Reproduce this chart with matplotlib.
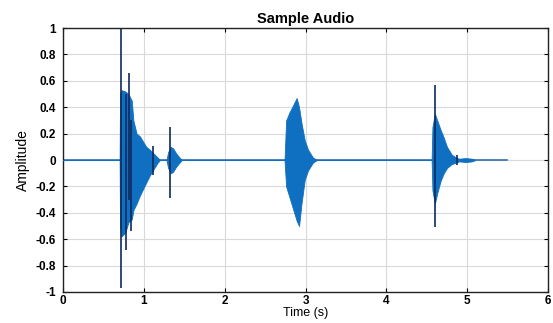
import numpy as np
import matplotlib
matplotlib.use('Agg')
import matplotlib.pyplot as plt

plt.rcParams['font.family'] = ['Liberation Sans', 'DejaVu Sans']
plt.rcParams['axes.unicode_minus'] = False

# envelope of the waveform (time in s, amplitude)
env_t = [0.0, 0.70, 0.705, 0.72, 0.77, 0.81, 0.85, 0.87, 0.91, 0.95, 0.99, 1.03, 1.07, 1.12, 1.17, 1.20,
         1.28, 1.30, 1.33, 1.36, 1.40, 1.44, 1.47,
         2.74, 2.76, 2.80, 2.85, 2.89, 2.92, 2.95, 2.99, 3.03, 3.09, 3.14,
         4.56, 4.57, 4.60, 4.63, 4.67, 4.71, 4.75, 4.81, 4.86, 4.90, 4.98, 5.06, 5.10]
env_hi = [0, 0, 0.50, 0.53, 0.52, 0.50, 0.45, 0.30, 0.20, 0.18, 0.14, 0.10, 0.08, 0.05, 0.02, 0,
          0, 0.06, 0.10, 0.09, 0.05, 0.02, 0,
          0, 0.30, 0.36, 0.42, 0.47, 0.40, 0.28, 0.15, 0.08, 0.02, 0,
          0, 0.25, 0.35, 0.30, 0.23, 0.17, 0.10, 0.04, 0.02, 0.01, 0.015, 0.01, 0]
env_lo = [0, 0, -0.50, -0.58, -0.55, -0.47, -0.45, -0.38, -0.33, -0.27, -0.22, -0.17, -0.12, -0.07, -0.02, 0,
          0, -0.06, -0.10, -0.09, -0.05, -0.02, 0,
          0, -0.20, -0.28, -0.38, -0.46, -0.50, -0.33, -0.15, -0.08, -0.02, 0,
          0, -0.23, -0.33, -0.25, -0.16, -0.10, -0.06, -0.03, -0.02, -0.01, -0.015, -0.01, 0]

# single sharp peaks
spike_t = [0.712, 0.78, 0.815, 0.84, 1.11, 1.32, 4.60, 4.88]
spike_hi = [0.99, 0.50, 0.66, 0.30, 0.11, 0.25, 0.57, 0.04]
spike_lo = [-0.97, -0.68, -0.30, -0.54, -0.11, -0.29, -0.51, -0.04]

signal_end = 5.49
yticks = [-1, -0.8, -0.6, -0.4, -0.2, 0, 0.2, 0.4, 0.6, 0.8, 1]

fig = plt.figure(figsize=(5.53, 3.23), dpi=100)
ax = fig.add_axes([0.114, 0.096, 0.877, 0.817])

ax.plot([0, signal_end], [0, 0], color='#2f6fae', lw=1.2, zorder=2)
ax.fill_between(env_t, env_lo, env_hi, color='#0f6fc0', lw=0.6, edgecolor='#0f6fc0', zorder=3)
ax.vlines(spike_t, spike_lo, spike_hi, color='#0d2b5e', lw=1.2, zorder=4)

ax.set_xlim(0, 6)
ax.set_ylim(-1, 1)
ax.set_xticks(np.arange(0, 7, 1))
ax.set_yticks(yticks)
ax.set_yticklabels(['%g' % v for v in yticks])
ax.grid(True, color='#d9d9d9', lw=0.8)
ax.set_axisbelow(True)
ax.tick_params(direction='in', top=True, right=True, length=3, width=0.8,
               labelsize=8.5, pad=5)
ax.tick_params(axis='x', pad=2)
for lab in ax.get_xticklabels() + ax.get_yticklabels():
    lab.set_fontweight('bold')
for s in ax.spines.values():
    s.set_linewidth(1.0)
    s.set_color('#222222')

ax.set_title('Sample Audio', fontsize=10.5, fontweight='bold', pad=4)
ax.set_xlabel('Time (s)', fontsize=9, labelpad=0)
ax.set_ylabel('Amplitude', fontsize=10, labelpad=4)

fig.savefig('out.png', dpi=100)
